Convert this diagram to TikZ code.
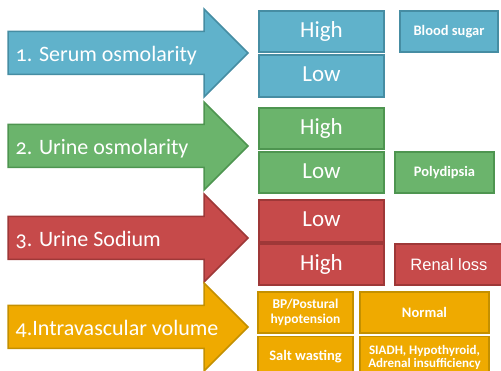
\documentclass[tikz,border=0pt]{standalone}
\usepackage{fontspec}
\setmainfont{Carlito}[Numbers=OldStyle]
\newfontfamily\arialfont{Liberation Sans}
\definecolor{bluefill}{HTML}{60B2CB}
\definecolor{blueline}{HTML}{468DA3}
\definecolor{greenfill}{HTML}{6BB46C}
\definecolor{greenline}{HTML}{4E9550}
\definecolor{redfill}{HTML}{C64A4A}
\definecolor{redline}{HTML}{9E3838}
\definecolor{yellowfill}{HTML}{EFAA00}
\definecolor{yellowline}{HTML}{C49000}

\begin{document}
\begin{tikzpicture}[x=1pt,y=-1pt, line width=1.5pt, line join=miter]
    \tikzstyle{box}=[draw, text=white, minimum width=125pt, minimum height=41pt, inner sep=1pt, align=center]
    \tikzstyle{big}=[box, text height=12pt, text depth=0pt, font=\fontsize{23}{26}\selectfont]
    \tikzstyle{small}=[box, font=\bfseries\fontsize{14.5}{15.5}\selectfont]
    \tikzstyle{label}=[text=white, anchor=base west, inner sep=0pt, font=\fontsize{22}{24}\selectfont]
    \useasboundingbox (0,0) rectangle (501,371);
    \clip (0,0) rectangle (501,371);
    % arrows
    \foreach \yc/\col in {53/blue,146/green,238/red,327/yellow}
        {
            \draw[fill=\col fill, draw=\col line] (8,\yc-21.5)--(204,\yc-21.5)--(204,\yc-44)--(248,\yc)--(204,\yc+44)--(204,\yc+21.5)--(8,\yc+21.5)--cycle;
        }
    \node[label] (serum) at (15,61.5) {1. Serum osmolarity};
    \node[label] (urineosm) at (15,154.5) {2. Urine osmolarity};
    \node[label] (urinena) at (15,246.5) {3. Urine Sodium};
    \node[label] (volume) at (15,335.5) {4.Intravascular volume};
    % 1
    \node[big, fill=bluefill, draw=blueline] (serumhigh) at (321.5,31.5) {High};
    \node[big, fill=bluefill, draw=blueline, minimum height=42pt] (serumlow) at (321.5,76) {Low};
    \node[small, fill=bluefill, draw=blueline, minimum width=98pt] (sugar) at (449,31.5) {Blood sugar};
    % 2
    \node[big, fill=greenfill, draw=greenline] (osmhigh) at (321.5,128.5) {High};
    \node[big, fill=greenfill, draw=greenline] (osmlow) at (321.5,172.5) {Low};
    \node[small, fill=greenfill, draw=greenline, minimum width=99pt] (polydipsia) at (444.5,172.5) {Polydipsia};
    % 3
    \node[big, fill=redfill, draw=redline, minimum height=42pt] (nalow) at (321.5,221) {Low};
    \node[big, fill=redfill, draw=redline] (nahigh) at (321.5,264.5) {High};
    \node[box, fill=redfill, draw=redline, minimum width=108pt, font=\arialfont\fontsize{16.5}{18}\selectfont] (renal) at (449,264.5) {Renal loss};
    % 4
    \node[small, fill=yellowfill, draw=yellowline, minimum width=95pt, font=\bfseries\fontsize{13.5}{15}\selectfont] (postural) at (305.5,312.5) {BP/Postural\\hypotension};
    \node[small, fill=yellowfill, draw=yellowline, minimum width=129pt] (normal) at (424.5,312.5) {Normal};
    \node[small, fill=yellowfill, draw=yellowline, minimum width=95pt] (salt) at (305.5,357) {Salt wasting};
    \node[small, fill=yellowfill, draw=yellowline, minimum width=129pt, font=\bfseries\fontsize{13}{13}\selectfont] (siadh) at (424.5,357) {SIADH, Hypothyroid,\\Adrenal insufficiency};
\end{tikzpicture}
\end{document}
